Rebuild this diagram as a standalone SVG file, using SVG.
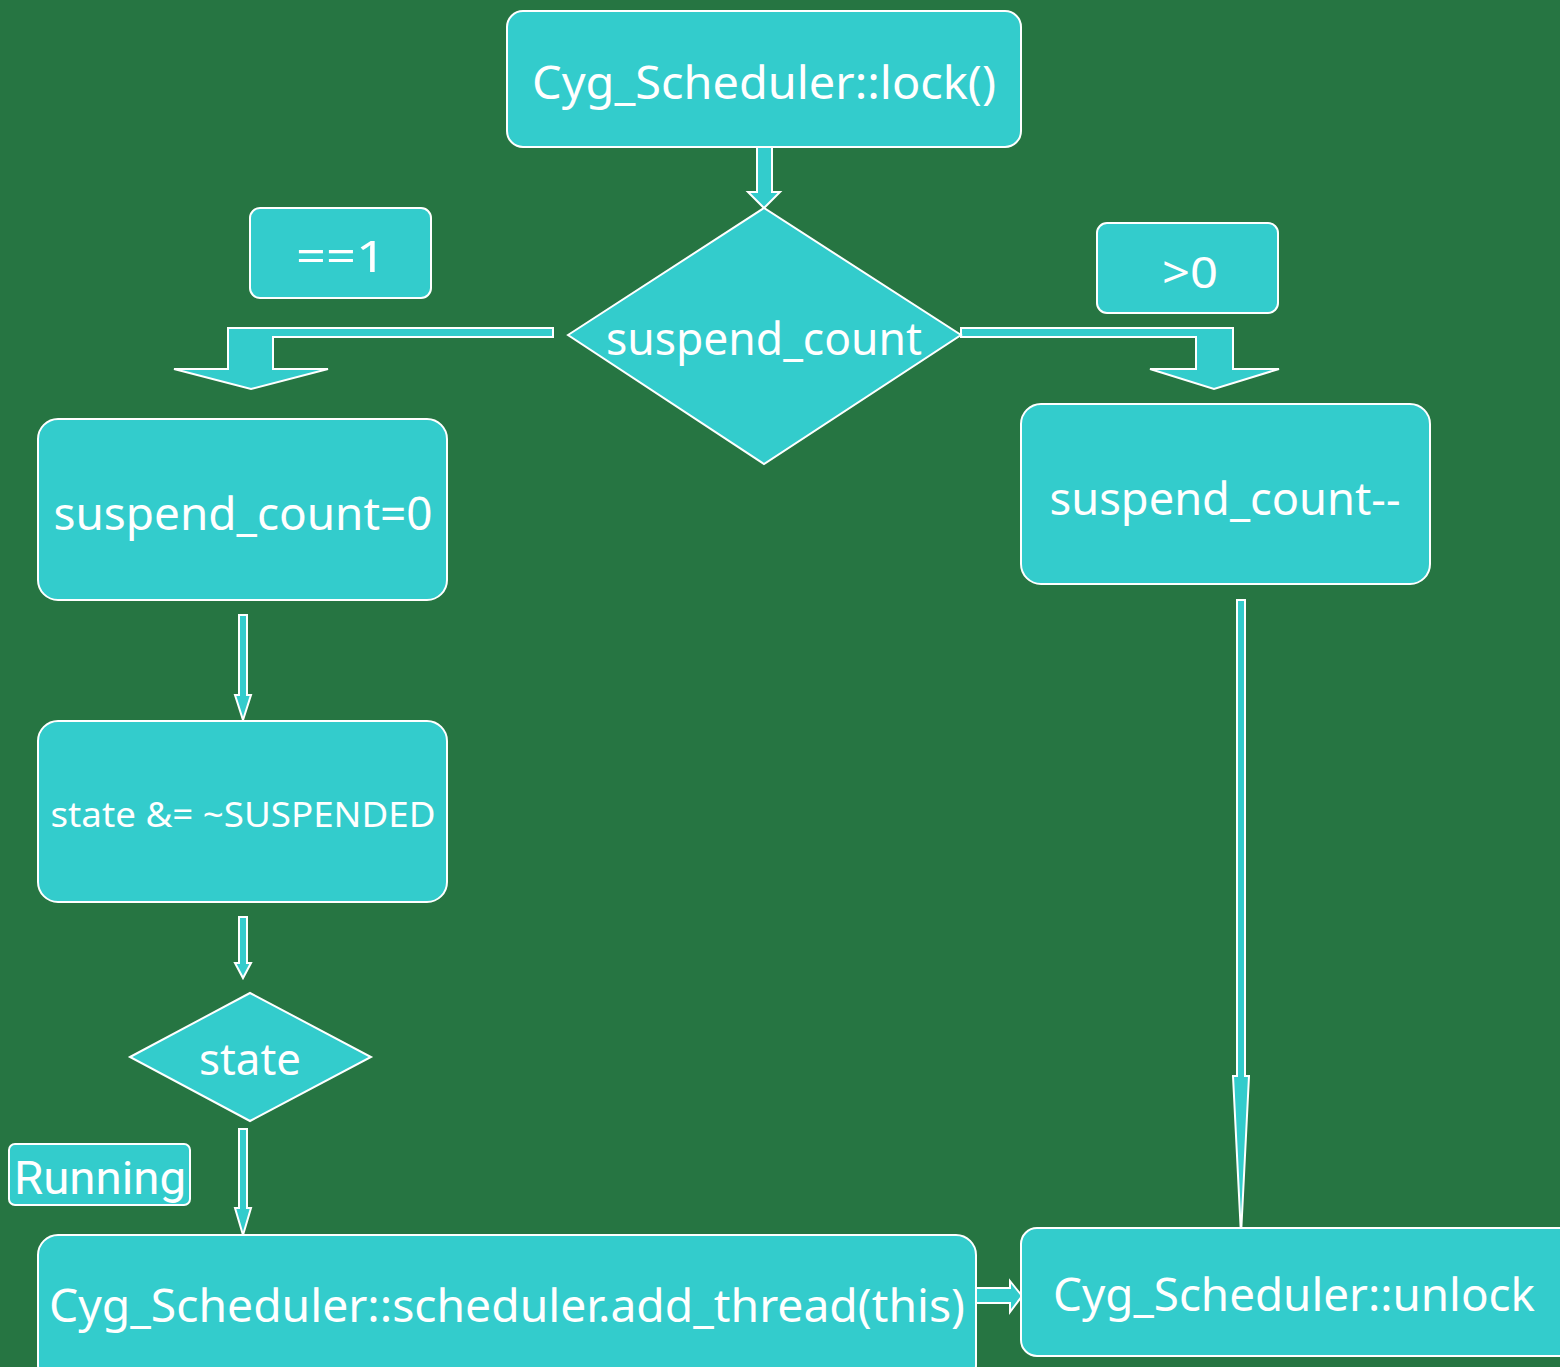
<svg xmlns="http://www.w3.org/2000/svg" width="1560" height="1367" viewBox="0 0 1560 1367">
  <style>
    .box { fill: #33CCCC; stroke: #FFFFFF; stroke-width: 2; }
    .arrow { fill: #33CCCC; stroke: #FFFFFF; stroke-width: 2; stroke-linejoin: miter; }
    .label { fill: #FFFFFF; font-family: "Noto Sans", "DejaVu Sans", sans-serif; text-anchor: middle; }
    .roboto { fill: #FFFFFF; font-family: Roboto, "Noto Sans", sans-serif; }
  </style>
  <rect x="0" y="0" width="1560" height="1367" fill="#267542"/>

  <g id="connectors">
    <!-- lock() down to decision -->
    <path class="arrow" d="M757,147 L772,147 L772,192 L780,192 L764,208 L748,192 L757,192 Z"/>
    <!-- decision left branch (==1) -->
    <path class="arrow" d="M553,328 L228,328 L228,369 L174,369 L251,389 L328,369 L273,369 L273,337 L553,337 Z"/>
    <!-- decision right branch (>0) -->
    <path class="arrow" d="M961,328 L1233,328 L1233,369 L1279,369 L1214,389 L1150,369 L1196,369 L1196,337 L961,337 Z"/>
    <!-- left column arrows -->
    <path class="arrow" d="M239,615 L247,615 L247,695 L251,695 L243,720 L235,695 L239,695 Z"/>
    <path class="arrow" d="M239,917 L247,917 L247,963 L251,963 L243,978 L235,963 L239,963 Z"/>
    <path class="arrow" d="M239,1129 L247,1129 L247,1208 L251,1208 L243,1235 L235,1208 L239,1208 Z"/>
    <!-- add_thread to unlock -->
    <path class="arrow" d="M976,1288 L1010,1288 L1010,1281 L1022,1296 L1010,1312 L1010,1303 L976,1303 Z"/>
    <!-- decrement box down to unlock -->
    <path class="arrow" d="M1237,600 L1245,600 L1245,1076 L1249,1076 L1241,1235 L1233,1076 L1237,1076 Z"/>
  </g>

  <g id="lock">
    <rect class="box" x="507" y="11" width="514" height="136" rx="16"/>
    <text class="label" x="764" y="99" font-size="46" textLength="464" lengthAdjust="spacingAndGlyphs">Cyg_Scheduler::lock()</text>
  </g>

  <g id="decision-suspend-count">
    <polygon class="box" points="568,335 764,208 961,335 764,464"/>
    <text class="label" x="764" y="355" font-size="46" textLength="316" lengthAdjust="spacingAndGlyphs">suspend_count</text>
  </g>

  <g id="label-eq1">
    <rect class="box" x="250" y="208" width="181" height="90" rx="10"/>
    <text class="label" x="341" y="272" font-size="44" textLength="90" lengthAdjust="spacingAndGlyphs">==1</text>
  </g>

  <g id="label-gt0">
    <rect class="box" x="1097" y="223" width="181" height="90" rx="10"/>
    <text class="label" x="1190" y="288" font-size="44" textLength="56" lengthAdjust="spacingAndGlyphs">&gt;0</text>
  </g>

  <g id="set-zero">
    <rect class="box" x="38" y="419" width="409" height="181" rx="20"/>
    <text class="label" x="243" y="530" font-size="46" textLength="379" lengthAdjust="spacingAndGlyphs">suspend_count=0</text>
  </g>

  <g id="decrement">
    <rect class="box" x="1021" y="404" width="409" height="180" rx="20"/>
    <text class="label" x="1225" y="515" font-size="46" textLength="351" lengthAdjust="spacingAndGlyphs">suspend_count--</text>
  </g>

  <g id="clear-suspended">
    <rect class="box" x="38" y="721" width="409" height="181" rx="20"/>
    <text class="label" x="243" y="827" font-size="34" textLength="385" lengthAdjust="spacingAndGlyphs">state &amp;=  ~SUSPENDED</text>
  </g>

  <g id="decision-state">
    <polygon class="box" points="130,1057 250,993 371,1057 250,1121"/>
    <text class="label" x="250" y="1075" font-size="44" textLength="102" lengthAdjust="spacingAndGlyphs">state</text>
  </g>

  <g id="label-running">
    <rect class="box" x="9" y="1144" width="181" height="61" rx="6"/>
    <text class="roboto" x="14" y="1194" font-size="46" textLength="172" lengthAdjust="spacingAndGlyphs">Running</text>
  </g>

  <g id="add-thread">
    <rect class="box" x="38" y="1235" width="938" height="150" rx="20"/>
    <text class="label" x="507" y="1322" font-size="46" textLength="916" lengthAdjust="spacingAndGlyphs">Cyg_Scheduler::scheduler.add_thread(this)</text>
  </g>

  <g id="unlock">
    <rect class="box" x="1021" y="1228" width="560" height="128" rx="16"/>
    <text class="label" x="1294" y="1311" font-size="46" textLength="482" lengthAdjust="spacingAndGlyphs">Cyg_Scheduler::unlock</text>
  </g>
</svg>
